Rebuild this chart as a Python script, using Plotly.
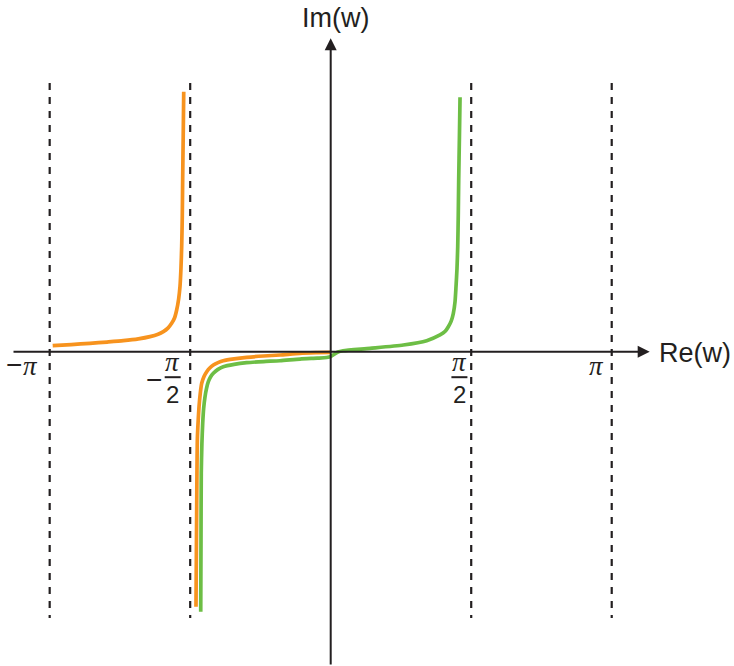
import math

import plotly.graph_objects as go

# --- data (x in radians, y in the same units) ---------------------------------
orange_upper_x = [-3.108, -2.900, -2.691, -2.500, -2.319, -2.150, -2.020, -1.930,
                  -1.871, -1.820, -1.778, -1.745, -1.722, -1.700, -1.685, -1.674,
                  -1.666, -1.659, -1.655, -1.649, -1.643]
orange_upper_y = [0.067, 0.080, 0.094, 0.108, 0.123, 0.143, 0.168, 0.195,
                  0.224, 0.263, 0.317, 0.380, 0.466, 0.590, 0.727, 0.930,
                  1.174, 1.520, 1.920, 2.400, 2.907]

orange_lower_x = [-1.506, -1.502, -1.498, -1.495, -1.491, -1.482, -1.472, -1.458,
                  -1.442, -1.415, -1.386, -1.352, -1.312, -1.260, -1.201, -1.080,
                  -0.939, -0.750, -0.567, -0.343, -0.150, -0.008]
orange_lower_y = [-2.851, -2.300, -1.733, -1.330, -0.987, -0.780, -0.615, -0.465,
                  -0.353, -0.275, -0.224, -0.182, -0.149, -0.122, -0.101, -0.080,
                  -0.063, -0.048, -0.037, -0.018, -0.011, -0.007]

green_x = [-1.453, -1.450, -1.447, -1.440, -1.431, -1.420, -1.405, -1.388,
           -1.368, -1.342, -1.312, -1.260, -1.201, -1.080, -0.939, -0.750,
           -0.567, -0.343, -0.150, -0.045, 0.000, 0.026, 0.082, 0.138,
           0.439, 0.812, 1.073, 1.222, 1.280, 1.315, 1.348, 1.371, 1.390,
           1.401, 1.412, 1.420, 1.426, 1.431, 1.439, 1.446]
green_y = [-2.907, -2.105, -1.359, -1.030, -0.800, -0.630, -0.503, -0.410,
           -0.335, -0.280, -0.241, -0.198, -0.168, -0.142, -0.123, -0.110,
           -0.101, -0.082, -0.072, -0.065, -0.055, -0.037, -0.003, 0.011,
           0.038, 0.075, 0.123, 0.187, 0.228, 0.279, 0.345, 0.429, 0.560,
           0.727, 0.930, 1.174, 1.520, 1.920, 2.400, 2.844]

asymptote_x = [-math.pi, -math.pi / 2, math.pi / 2, math.pi]

# --- layout geometry -----------------------------------------------------------
WIDTH, HEIGHT = 734, 666
PPU = 89.45  # pixels per unit on both axes
ORIGIN_PX = (330.7, 351.7)
x_range = [-ORIGIN_PX[0] / PPU, (WIDTH - ORIGIN_PX[0]) / PPU]
y_range = [-(HEIGHT - ORIGIN_PX[1]) / PPU, ORIGIN_PX[1] / PPU]


def px(n):
    """Convert a pixel offset into data units."""
    return n / PPU


INK = "#231F20"
ORANGE = "#F7931E"
GREEN = "#6DBE45"
FONT = "Liberation Sans, Arial, sans-serif"
PI_FONT = "Liberation Serif, Times New Roman, serif"

fig = go.Figure()

# dashed asymptotes
for xv in asymptote_x:
    fig.add_trace(
        go.Scatter(
            x=[xv, xv],
            y=[px(268.7), px(-266.3)],
            mode="lines",
            line=dict(color=INK, width=2.2, dash="7px,7px"),
            hoverinfo="skip",
        )
    )

fig.add_trace(
    go.Scatter(
        x=green_x, y=green_y, mode="lines",
        line=dict(color=GREEN, width=3.7, shape="spline", smoothing=0.6),
    )
)
fig.add_trace(
    go.Scatter(
        x=orange_lower_x, y=orange_lower_y, mode="lines",
        line=dict(color=ORANGE, width=3.7, shape="spline", smoothing=0.6),
    )
)
fig.add_trace(
    go.Scatter(
        x=orange_upper_x, y=orange_upper_y, mode="lines",
        line=dict(color=ORANGE, width=3.7, shape="spline", smoothing=0.6),
    )
)

pi_font = dict(size=27, color=INK, family=PI_FONT)
minus_font = dict(size=28, color=INK, family=FONT)
annotations = [
    # axes with arrowheads
    dict(x=px(319.0), y=0, ax=px(-318.7), ay=0, axref="x", ayref="y",
         text="", showarrow=True, arrowhead=2, arrowsize=1.2, arrowwidth=2,
         arrowcolor=INK, standoff=0),
    dict(x=0, y=px(313.4), ax=0, ay=y_range[0], axref="x", ayref="y",
         text="", showarrow=True, arrowhead=2, arrowsize=1.2, arrowwidth=2,
         arrowcolor=INK, standoff=0),
    # axis titles
    dict(x=px(5.1), y=px(333.5), text="Im(w)", showarrow=False,
         font=dict(size=27, color=INK, family=FONT)),
    dict(x=px(326), y=px(-1.5), text="Re(w)", showarrow=False, xanchor="left",
         font=dict(size=27, color=INK, family=FONT)),
    # tick labels
    dict(x=asymptote_x[0] - px(19), y=px(-14), text="<i>π</i>", showarrow=False,
         font=pi_font),
    dict(x=asymptote_x[0] - px(36), y=px(-13), text="−", showarrow=False,
         font=minus_font),
    dict(x=asymptote_x[3] - px(15), y=px(-14), text="<i>π</i>", showarrow=False,
         font=pi_font),
]
shapes = []
for xv, sign in [(asymptote_x[1], True), (asymptote_x[2], False)]:
    cx = xv - px(17.5) if sign else xv - px(11.8)
    annotations.append(
        dict(x=cx, y=px(-10), text="<i>π</i>", showarrow=False, font=pi_font)
    )
    annotations.append(
        dict(x=cx, y=px(-43), text="2", showarrow=False,
             font=dict(size=24, color=INK, family=FONT))
    )
    shapes.append(
        dict(type="line", x0=cx - px(8), x1=cx + px(8), y0=px(-25.5), y1=px(-25.5),
             line=dict(color=INK, width=2))
    )
    if sign:
        annotations.append(
            dict(x=cx - px(19), y=px(-28), text="−", showarrow=False,
                 font=minus_font)
        )

fig.update_layout(
    width=WIDTH,
    height=HEIGHT,
    margin=dict(l=0, r=0, t=0, b=0),
    paper_bgcolor="white",
    plot_bgcolor="white",
    showlegend=False,
    xaxis=dict(range=x_range, visible=False, fixedrange=True),
    yaxis=dict(range=y_range, visible=False, fixedrange=True),
    annotations=annotations,
    shapes=shapes,
)

# the page's default body margin would push the figure 8px in
fig.write_html(
    "out.html",
    config={"displayModeBar": False},
    post_script="document.body.style.margin = '0';",
)
